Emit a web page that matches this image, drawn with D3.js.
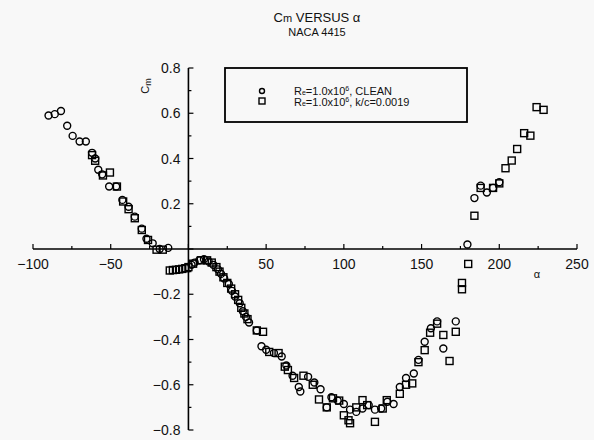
<!DOCTYPE html>
<html lang="en">
<head>
<meta charset="utf-8">
<title>Cm versus alpha</title>
<script src="https://d3js.org/d3.v7.min.js"></script>
<style>
  body { margin: 0; background: #f8f8f8; }
  text { font-family: "Liberation Sans", Arial, sans-serif; fill: #111; }
</style>
</head>
<body>
<script>
// clean airfoil, Re = 1.0e6 (circles)
var cleanAlpha = [-90, -86, -82, -78, -74.5, -70, -66, -62, -60, -58, -55.5, -51, -46.5, -42.5, -38.5, -34.5, -30, -27, -23, -18.5, -13,
  2, 4, 7, 10, 13, 16, 19, 21, 23, 26, 28, 30, 33, 35, 37, 39, 44, 47, 50, 55, 60, 63, 67, 71, 72, 77, 81, 85, 89, 92, 96,
  100, 104, 108, 112, 116, 120, 124, 128, 132, 136, 140, 145, 148, 152, 156, 160, 164, 172, 179.5, 184, 188, 192, 196, 200];
var cleanCm = [0.59, 0.596, 0.61, 0.545, 0.50, 0.475, 0.475, 0.425, 0.40, 0.35, 0.33, 0.276, 0.276, 0.217, 0.187, 0.143, 0.09, 0.045, 0.025, 0.0, 0.005,
  -0.07, -0.06, -0.05, -0.045, -0.055, -0.07, -0.09, -0.11, -0.13, -0.155, -0.185, -0.21, -0.24, -0.275, -0.30, -0.325, -0.36, -0.43, -0.445, -0.46, -0.475, -0.515, -0.56, -0.61, -0.63, -0.565, -0.59, -0.62, -0.70, -0.655, -0.67,
  -0.685, -0.71, -0.72, -0.705, -0.69, -0.71, -0.705, -0.675, -0.685, -0.61, -0.57, -0.55, -0.49, -0.41, -0.35, -0.32, -0.44, -0.32, 0.02, 0.225, 0.28, 0.25, 0.27, 0.295];

// rough leading edge, k/c = 0.0019 (squares)
var roughAlpha = [-62, -60, -55, -50.5, -46, -42, -38.5, -34.5, -30, -26, -20.5, -16.5,
  -12, -10, -8, -6, -4, -2, 0, 3, 8, 12, 15, 18, 20, 22.5, 25, 27.5, 30, 32, 34, 36, 38, 44, 48, 52, 58, 62, 64, 68, 74, 80, 84, 89, 93, 97,
  100, 103, 104, 108, 112, 115, 120, 125, 127.6, 136, 140, 144, 148, 152, 155.5, 160, 164, 168, 172, 176, 176, 180, 184, 188, 196, 200, 204, 208, 211.5, 216, 220, 224, 228.5];
var roughCm = [0.415, 0.39, 0.325, 0.338, 0.276, 0.21, 0.176, 0.136, 0.084, 0.04, -0.003, -0.003,
  -0.095, -0.093, -0.092, -0.09, -0.088, -0.085, -0.08, -0.065, -0.05, -0.05, -0.06, -0.08, -0.1, -0.125, -0.15, -0.175, -0.2, -0.225, -0.26, -0.285, -0.31, -0.36, -0.366, -0.455, -0.46, -0.52, -0.535, -0.57, -0.56, -0.60, -0.665, -0.70, -0.66, -0.67,
  -0.735, -0.757, -0.77, -0.70, -0.668, -0.69, -0.764, -0.705, -0.668, -0.64, -0.60, -0.594, -0.50, -0.447, -0.37, -0.33, -0.38, -0.495, -0.366, -0.15, -0.178, -0.066, 0.147, 0.27, 0.27, 0.29, 0.357, 0.391, 0.442, 0.512, 0.501, 0.627, 0.615];

var xTicks = [-100, -50, 50, 100, 150, 200, 250];
var yTicks = [0.8, 0.6, 0.4, 0.2, -0.2, -0.4, -0.6, -0.8];

var w = 594, h = 440;
var svg = d3.select("body").append("svg").attr("width", w).attr("height", h);

var x = d3.scaleLinear().domain([-100, 250]).range([33, 577]);
var y = d3.scaleLinear().domain([-0.8, 0.8]).range([430, 68]);

// title
var t1 = svg.append("text").attr("x", 317).attr("y", 22).attr("text-anchor", "middle").style("font-size", "13px");
t1.append("tspan").text("C");
t1.append("tspan").style("font-size", "11px").text("m");
t1.append("tspan").text(" VERSUS α");
svg.append("text").attr("x", 317).attr("y", 36).attr("text-anchor", "middle")
  .style("font-size", "11px").text("NACA 4415");

// x axis line and ticks (pointing up)
svg.append("line").attr("x1", x(-100)).attr("x2", x(250)).attr("y1", y(0)).attr("y2", y(0))
  .attr("stroke", "#000").attr("stroke-width", 1.6);
svg.append("g").selectAll("line").data(d3.range(-100, 251, 25)).join("line")
  .attr("x1", d => x(d)).attr("x2", d => x(d))
  .attr("y1", y(0)).attr("y2", d => y(0) - (d % 50 === 0 ? 5 : 3))
  .attr("stroke", "#000").attr("stroke-width", 1.2);
svg.append("g").selectAll("text").data(xTicks).join("text")
  .attr("x", d => x(d)).attr("y", y(0) + 20).attr("text-anchor", "middle")
  .style("font-size", "14px").text(d => d3.format("d")(d).replace("-", "\u2212"));

// y axis line and ticks (pointing right)
svg.append("line").attr("x1", x(0)).attr("x2", x(0)).attr("y1", y(0.8)).attr("y2", y(-0.8))
  .attr("stroke", "#000").attr("stroke-width", 1.6);
svg.append("g").selectAll("line").data(d3.range(-8, 9).map(d => d / 10)).join("line")
  .attr("x1", x(0)).attr("x2", d => x(0) + (Math.round(d * 10) % 2 === 0 ? 5 : 3))
  .attr("y1", d => y(d)).attr("y2", d => y(d))
  .attr("stroke", "#000").attr("stroke-width", 1.2);
svg.append("g").selectAll("text").data(yTicks).join("text")
  .attr("x", x(0) - 8).attr("y", d => y(d) + 5).attr("text-anchor", "end")
  .style("font-size", "14px").text(d => d3.format(".1f")(d).replace("-", "\u2212"));

// axis labels
var yl = svg.append("text").attr("transform", "translate(149,86) rotate(-90)")
  .attr("text-anchor", "middle").style("font-size", "11px");
yl.append("tspan").text("C");
yl.append("tspan").style("font-size", "9px").attr("dy", 2).text("m");
svg.append("text").attr("x", 537).attr("y", 278).attr("text-anchor", "middle")
  .style("font-size", "11px").text("α");

// data
var clean = cleanAlpha.map((a, i) => ({a: a, cm: cleanCm[i]}));
var rough = roughAlpha.map((a, i) => ({a: a, cm: roughCm[i]}));

svg.append("g").selectAll("rect").data(rough).join("rect")
  .attr("x", d => x(d.a) - 3.5).attr("y", d => y(d.cm) - 3.5)
  .attr("width", 7).attr("height", 7)
  .attr("fill", "none").attr("stroke", "#000").attr("stroke-width", 1.4);
svg.append("g").selectAll("circle").data(clean).join("circle")
  .attr("cx", d => x(d.a)).attr("cy", d => y(d.cm)).attr("r", 3.5)
  .attr("fill", "none").attr("stroke", "#000").attr("stroke-width", 1.4);

// legend
var lg = svg.append("g");
lg.append("rect").attr("x", 225).attr("y", 68).attr("width", 242).attr("height", 54)
  .attr("fill", "#f8f8f8").attr("stroke", "#000").attr("stroke-width", 1.8);
lg.append("circle").attr("cx", 262).attr("cy", 91).attr("r", 2.5)
  .attr("fill", "none").attr("stroke", "#000").attr("stroke-width", 1.4);
lg.append("rect").attr("x", 259).attr("y", 98).attr("width", 6).attr("height", 6)
  .attr("fill", "none").attr("stroke", "#000").attr("stroke-width", 1.4);
var legendLabels = [", CLEAN", ", k/c=0.0019"];
legendLabels.forEach(function (s, i) {
  var tx = lg.append("text").attr("x", 294).attr("y", 95 + i * 10.5).style("font-size", "11px");
  tx.append("tspan").text("R");
  tx.append("tspan").style("font-size", "7px").text("e");
  tx.append("tspan").text("=1.0x10");
  tx.append("tspan").style("font-size", "7px").attr("dy", -4).text("6");
  tx.append("tspan").attr("dy", 4).text(s);
});
</script>
</body>
</html>
